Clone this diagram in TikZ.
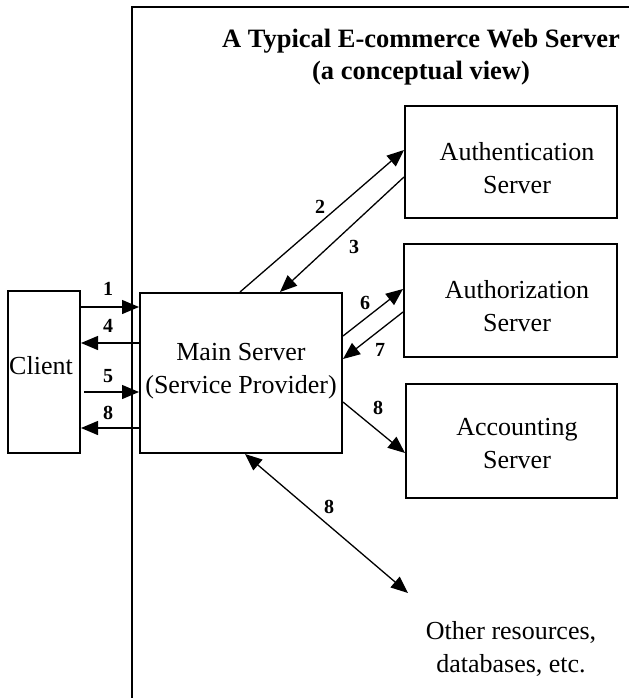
\documentclass[tikz,border=0pt]{standalone}
\usepackage{fontspec}
\setmainfont{Liberation Serif}
\usetikzlibrary{arrows.meta}
\begin{document}
\begin{tikzpicture}[x=1pt,y=-1pt,
  box/.style={draw,line width=2pt,inner sep=0pt},
  txt/.style={font=\fontsize{26}{33}\selectfont,align=center,inner sep=0pt},
  ttl/.style={font=\fontsize{26.5}{32}\selectfont\bfseries,align=center,inner sep=0pt},
  num/.style={font=\fontsize{20}{22}\selectfont\bfseries,inner sep=0pt},
  tip/.tip={Triangle[length=17pt,width=14pt]},
  flow/.style={line width=1.3pt,-tip},
  both/.style={line width=1.3pt,tip-tip}]
\useasboundingbox (0,0) rectangle (629,698);

% border of the server area
\draw[line width=2pt] (132,698) -- (132,7) -- (629,7);

% title
\node[ttl] (title) at (421,57) {A Typical E-commerce Web Server\\(a conceptual view)};

% boxes
\node[box,minimum width=72pt,minimum height=162pt] (client) at (44,372) {};
\node[txt] (clientlbl) at (41,366) {Client};

\node[box,minimum width=202pt,minimum height=160pt] (main) at (241,373) {};
\node[txt] (mainlbl) at (241,371) {Main Server\\(Service Provider)};

\node[box,minimum width=212pt,minimum height=112pt] (auth) at (511,162) {};
\node[txt] (authlbl) at (517,168) {Authentication\\Server};

\node[box,minimum width=213pt,minimum height=113pt] (authz) at (510.5,300.5) {};
\node[txt] (authzlbl) at (517,306) {Authorization\\Server};

\node[box,minimum width=211pt,minimum height=114pt] (acct) at (511.5,441) {};
\node[txt] (acctlbl) at (517,444) {Accounting\\Server};

\node[txt] (other) at (511,649) {Other resources,\\databases, etc.};
\coordinate (otherend) at (408,593);

% client <-> main server
\draw[flow] (client.east |- 0,307) -- (main.west |- 0,307);
\draw[flow] (main.west |- 0,343) -- (client.east |- 0,343);
\draw[flow] ([xshift=3pt]client.east |- 0,392) -- (main.west |- 0,392);
\draw[flow] (main.west |- 0,428) -- (client.east |- 0,428);
\node[num] (n1) at (108,289) {1};
\node[num] (n4) at (108,326) {4};
\node[num] (n5) at (108,376) {5};
\node[num] (n8a) at (108,413) {8};

% main server <-> authentication
\draw[flow] (main.north -| 240,0) -- (auth.west |- 0,150);
\draw[flow] (auth.west |- 0,177) -- (main.north -| 280,0);
\node[num] (n2) at (320,207) {2};
\node[num] (n3) at (354,247) {3};

% main server <-> authorization
\draw[flow] (main.east |- 0,336) -- (authz.west |- 0,289);
\draw[flow] (authz.west |- 0,312) -- (main.east |- 0,359);
\node[num] (n6) at (365,303) {6};
\node[num] (n7) at (380,350) {7};

% main server -> accounting
\draw[flow] (main.east |- 0,402) -- (acct.west |- 0,453);
\node[num] (n8b) at (378,408) {8};

% main server <-> other resources
\draw[both] (main.south -| 245,0) -- (otherend);
\node[num] (n8c) at (329,507) {8};
\end{tikzpicture}
\end{document}
